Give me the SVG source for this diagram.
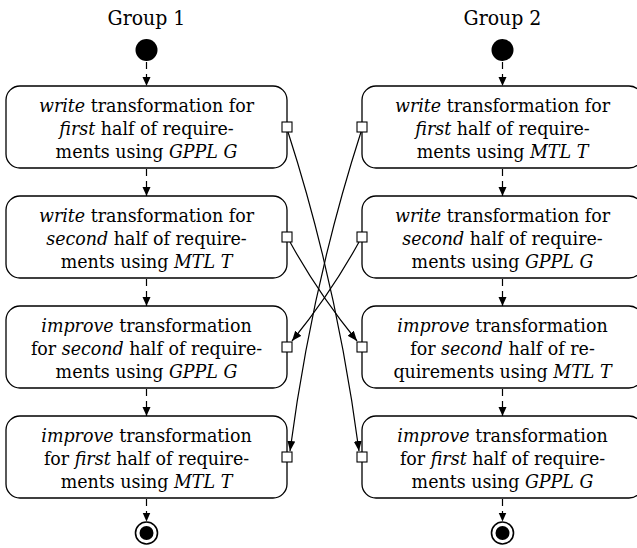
<svg xmlns="http://www.w3.org/2000/svg" width="637" height="548" viewBox="0 0 637 548">
<style>
text{font-family:'DejaVu Serif',serif;font-stretch:condensed;font-size:19.4px;fill:#000;text-anchor:middle}
.it{font-style:italic}
.box{fill:#fff;stroke:#000;stroke-width:1.3}
.pin{fill:#fff;stroke:#000;stroke-width:1.1}
.flow{fill:none;stroke:#000;stroke-width:1.2;stroke-dasharray:7 5}
.obj{fill:none;stroke:#000;stroke-width:1.2}
.lbl{font-size:21px}
</style>
<defs>
<marker id="ah" markerUnits="userSpaceOnUse" markerWidth="11" markerHeight="9" refX="10" refY="4" orient="auto" viewBox="0 0 11 9">
<path d="M0,0 L10,4 L0,8 z" fill="#000"/>
</marker>
<marker id="ahs" markerUnits="userSpaceOnUse" markerWidth="10" markerHeight="9" refX="9" refY="4" orient="auto" viewBox="0 0 10 9">
<path d="M0,0 L9,4 L0,8 z" fill="#000"/>
</marker>
</defs>

<g id="labels">
<text class="lbl" x="146.5" y="25">Group 1</text>
<text class="lbl" x="502.5" y="25">Group 2</text>
</g>

<g id="start1"><circle cx="146.5" cy="50" r="11" fill="#000"/></g>
<g id="start2"><circle cx="502.5" cy="50" r="11" fill="#000"/></g>

<g id="L1">
<rect class="box" x="6" y="86" width="281" height="82" rx="14"/>
<text x="146.5" y="112"><tspan class="it">write</tspan> transformation for</text>
<text x="146.5" y="135"><tspan class="it">first</tspan> half of require-</text>
<text x="146.5" y="158">ments using <tspan class="it">GPPL G</tspan></text>
<rect class="pin" x="282" y="122" width="10" height="10"/>
</g>
<g id="L2">
<rect class="box" x="6" y="196" width="281" height="82" rx="14"/>
<text x="146.5" y="222"><tspan class="it">write</tspan> transformation for</text>
<text x="146.5" y="245"><tspan class="it">second</tspan> half of require-</text>
<text x="146.5" y="268">ments using <tspan class="it">MTL T</tspan></text>
<rect class="pin" x="282" y="232" width="10" height="10"/>
</g>
<g id="L3">
<rect class="box" x="6" y="306" width="281" height="82" rx="14"/>
<text x="146.5" y="332"><tspan class="it">improve</tspan> transformation</text>
<text x="146.5" y="355">for <tspan class="it">second</tspan> half of require-</text>
<text x="146.5" y="378">ments using <tspan class="it">GPPL G</tspan></text>
<rect class="pin" x="282" y="342" width="10" height="10"/>
</g>
<g id="L4">
<rect class="box" x="6" y="416" width="281" height="82" rx="14"/>
<text x="146.5" y="442"><tspan class="it">improve</tspan> transformation</text>
<text x="146.5" y="465">for <tspan class="it">first</tspan> half of require-</text>
<text x="146.5" y="488">ments using <tspan class="it">MTL T</tspan></text>
<rect class="pin" x="282" y="452" width="10" height="10"/>
</g>

<g id="R1">
<rect class="box" x="362" y="86" width="281" height="82" rx="14"/>
<text x="502.5" y="112"><tspan class="it">write</tspan> transformation for</text>
<text x="502.5" y="135"><tspan class="it">first</tspan> half of require-</text>
<text x="502.5" y="158">ments using <tspan class="it">MTL T</tspan></text>
<rect class="pin" x="357" y="122" width="10" height="10"/>
</g>
<g id="R2">
<rect class="box" x="362" y="196" width="281" height="82" rx="14"/>
<text x="502.5" y="222"><tspan class="it">write</tspan> transformation for</text>
<text x="502.5" y="245"><tspan class="it">second</tspan> half of require-</text>
<text x="502.5" y="268">ments using <tspan class="it">GPPL G</tspan></text>
<rect class="pin" x="357" y="232" width="10" height="10"/>
</g>
<g id="R3">
<rect class="box" x="362" y="306" width="281" height="82" rx="14"/>
<text x="502.5" y="332"><tspan class="it">improve</tspan> transformation</text>
<text x="502.5" y="355">for <tspan class="it">second</tspan> half of re-</text>
<text x="502.5" y="378">quirements using <tspan class="it">MTL T</tspan></text>
<rect class="pin" x="357" y="342" width="10" height="10"/>
</g>
<g id="R4">
<rect class="box" x="362" y="416" width="281" height="82" rx="14"/>
<text x="502.5" y="442"><tspan class="it">improve</tspan> transformation</text>
<text x="502.5" y="465">for <tspan class="it">first</tspan> half of require-</text>
<text x="502.5" y="488">ments using <tspan class="it">GPPL G</tspan></text>
<rect class="pin" x="357" y="452" width="10" height="10"/>
</g>

<g id="end1"><circle cx="146.5" cy="533" r="11" fill="#fff" stroke="#000" stroke-width="1.6"/><circle cx="146.5" cy="533" r="7" fill="#000"/></g>
<g id="end2"><circle cx="502.5" cy="533" r="11" fill="#fff" stroke="#000" stroke-width="1.6"/><circle cx="502.5" cy="533" r="7" fill="#000"/></g>

<g id="connectors">
<line class="flow" x1="146.5" y1="62" x2="146.5" y2="86" marker-end="url(#ahs)"/>
<line class="flow" x1="146.5" y1="169" x2="146.5" y2="196" marker-end="url(#ahs)"/>
<line class="flow" x1="146.5" y1="279" x2="146.5" y2="306" marker-end="url(#ahs)"/>
<line class="flow" x1="146.5" y1="389" x2="146.5" y2="416" marker-end="url(#ahs)"/>
<line class="flow" x1="146.5" y1="499" x2="146.5" y2="521.5" marker-end="url(#ahs)"/>
<line class="flow" x1="502.5" y1="62" x2="502.5" y2="86" marker-end="url(#ahs)"/>
<line class="flow" x1="502.5" y1="169" x2="502.5" y2="196" marker-end="url(#ahs)"/>
<line class="flow" x1="502.5" y1="279" x2="502.5" y2="306" marker-end="url(#ahs)"/>
<line class="flow" x1="502.5" y1="389" x2="502.5" y2="416" marker-end="url(#ahs)"/>
<line class="flow" x1="502.5" y1="499" x2="502.5" y2="521.5" marker-end="url(#ahs)"/>
<path class="obj" d="M288,132 Q337,284 359,451" marker-end="url(#ah)"/>
<path class="obj" d="M361,132 Q312,284 290,451" marker-end="url(#ah)"/>
<path class="obj" d="M290,242 Q318,293 357,341" marker-end="url(#ah)"/>
<path class="obj" d="M359,242 Q331,293 292,341" marker-end="url(#ah)"/>
</g>
</svg>
